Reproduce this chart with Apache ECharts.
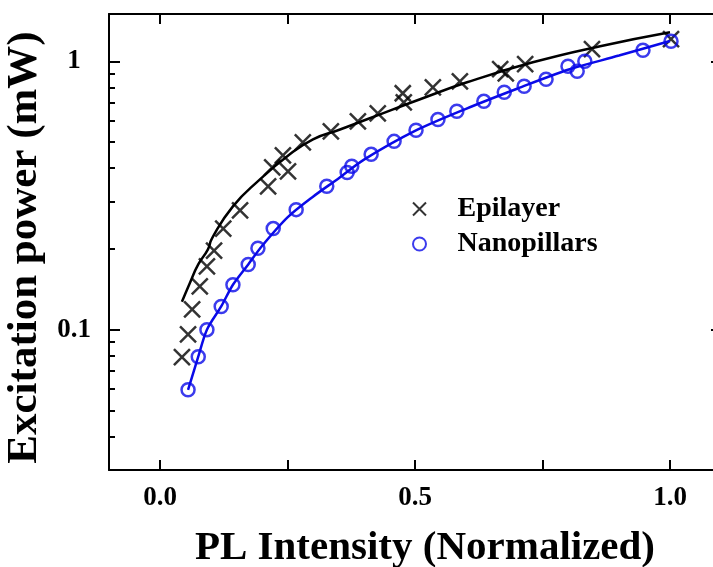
<!DOCTYPE html>
<html>
<head>
<meta charset="utf-8">
<script src="https://cdn.jsdelivr.net/npm/echarts@6/dist/echarts.min.js"></script>
<style>
  html, body { margin: 0; padding: 0; background: #fff; }
  #chart { width: 713px; height: 567px; }
</style>
</head>
<body>
<div id="chart"></div>
<script>
// measured points: [PL intensity (normalized), excitation power (mW)]
var epilayer = [
  [0.043, 0.079], [0.055, 0.096], [0.063, 0.119], [0.078, 0.145], [0.092, 0.172],
  [0.106, 0.197], [0.124, 0.238], [0.157, 0.278], [0.212, 0.342], [0.220, 0.402],
  [0.241, 0.446], [0.251, 0.389], [0.280, 0.499], [0.335, 0.548], [0.388, 0.597],
  [0.427, 0.640], [0.476, 0.760], [0.478, 0.703], [0.535, 0.800], [0.588, 0.842],
  [0.667, 0.934], [0.678, 0.902], [0.716, 0.975], [0.847, 1.109], [1.002, 1.208]
]
var nanopillars = [
  [0.055, 0.0597], [0.075, 0.0793], [0.092, 0.100], [0.120, 0.122], [0.143, 0.147],
  [0.173, 0.175], [0.192, 0.201], [0.222, 0.238], [0.267, 0.280], [0.327, 0.342],
  [0.367, 0.385], [0.376, 0.406], [0.414, 0.450], [0.459, 0.503], [0.502, 0.553],
  [0.545, 0.607], [0.582, 0.651], [0.635, 0.709], [0.675, 0.766], [0.714, 0.807],
  [0.757, 0.857], [0.800, 0.958], [0.818, 0.918], [0.833, 1.000], [0.947, 1.099],
  [1.002, 1.188]
]
// fit curves
var epilayerFit = [
  [0.043, 0.127], [0.059, 0.150], [0.075, 0.175], [0.094, 0.199], [0.102, 0.219],
  [0.143, 0.288], [0.196, 0.363], [0.249, 0.442], [0.300, 0.512], [0.353, 0.557],
  [0.406, 0.608], [0.457, 0.662], [0.510, 0.722], [0.602, 0.835], [0.731, 0.991],
  [0.863, 1.138], [1.000, 1.283]
]
var nanopillarsFit = [
  [0.055, 0.0597], [0.075, 0.0793], [0.092, 0.100], [0.120, 0.122], [0.143, 0.147],
  [0.173, 0.175], [0.200, 0.205], [0.250, 0.262], [0.300, 0.313], [0.350, 0.366],
  [0.400, 0.430], [0.500, 0.550], [0.600, 0.665], [0.700, 0.790], [0.800, 0.930],
  [0.900, 1.050], [1.000, 1.190]
]
var xTicks = [0, 0.25, 0.5, 0.75, 1.0]
var xLabels = [0, 0.5, 1.0]
var yMajor = [0.1, 1]
var yMinor = [0.04, 0.05, 0.06, 0.07, 0.08, 0.09, 0.2, 0.3, 0.4, 0.5, 0.6, 0.7, 0.8, 0.9]

var serif = 'Liberation Serif'
var blue = '#0a0ae8'
var cross = 'path://M0,0L10,10M10,0L0,10'

var chart = echarts.init(document.getElementById('chart'))

var xBase = {
  type: 'value',
  min: -0.1,
  max: 1.1,
  splitLine: {show: false},
  axisLine: {show: true, onZero: false, lineStyle: {color: '#000', width: 2}},
  axisTick: {inside: true, length: 10, customValues: xTicks, lineStyle: {color: '#000', width: 2}}
}
var yBase = {
  type: 'log',
  logBase: 10,
  min: 0.03,
  max: 1.5,
  splitLine: {show: false},
  axisLabel: {show: false},
  axisLine: {show: false, onZero: false}
}

chart.setOption({
  animation: false,
  grid: {left: 109, top: 14, width: 612, height: 456, containLabel: false, outerBoundsMode: 'none'},
  legend: {
    left: 407,
    top: 190,
    orient: 'vertical',
    itemWidth: 66,
    itemHeight: 13,
    itemGap: 7,
    data: ['Epilayer', 'Nanopillars'],
    textStyle: {fontFamily: serif, fontWeight: 'bold', fontSize: 28, color: '#000'}
  },
  xAxis: [
    Object.assign({}, xBase, {
      position: 'bottom',
      name: 'PL Intensity (Normalized)',
      nameLocation: 'middle',
      nameGap: 58,
      nameTextStyle: {fontFamily: serif, fontWeight: 'bold', fontSize: 41, color: '#000', padding: [0, 0, 0, 20]},
      axisLabel: {
        customValues: xLabels,
        margin: 15,
        fontFamily: serif,
        fontWeight: 'bold',
        fontSize: 27,
        color: '#000',
        formatter: function (v) { return v.toFixed(1) }
      }
    }),
    Object.assign({}, xBase, {position: 'top', axisLabel: {show: false}})
  ],
  yAxis: [
    Object.assign({}, yBase, {
      position: 'left',
      name: 'Excitation power (mW)',
      nameLocation: 'middle',
      nameGap: 55,
      nameTextStyle: {fontFamily: serif, fontWeight: 'bold', fontSize: 43, color: '#000', padding: [0, 11, 0, 0]},
      axisLine: {show: true, onZero: false, lineStyle: {color: '#000', width: 2}},
      axisTick: {inside: true, length: 11, customValues: yMajor, lineStyle: {color: '#000', width: 2}},
      axisLabel: {
        show: true,
        customValues: yMajor,
        margin: 35,
        align: 'center',
        fontFamily: serif,
        fontWeight: 'bold',
        fontSize: 27,
        color: '#000',
        formatter: function (v) { return String(+(+v).toPrecision(3)) }
      }
    }),
    Object.assign({}, yBase, {
      position: 'left',
      axisTick: {inside: true, length: 6, customValues: yMinor, lineStyle: {color: '#000', width: 2}}
    }),
    Object.assign({}, yBase, {
      position: 'right',
      axisLine: {show: true, onZero: false, lineStyle: {color: '#000', width: 2}},
      axisTick: {inside: true, length: 10, customValues: yMajor, lineStyle: {color: '#000', width: 2}}
    })
  ],
  series: [
    {
      type: 'line',
      name: 'Epilayer fit',
      data: epilayerFit,
      smooth: true,
      showSymbol: false,
      lineStyle: {color: '#000', width: 2.5}
    },
    {
      type: 'line',
      name: 'Nanopillars fit',
      data: nanopillarsFit,
      smooth: 0.3,
      showSymbol: false,
      lineStyle: {color: blue, width: 2.5}
    },
    {
      type: 'scatter',
      name: 'Epilayer',
      data: epilayer,
      symbol: cross,
      symbolSize: 16,
      itemStyle: {color: 'transparent', borderColor: '#000', borderWidth: 2.5}
    },
    {
      type: 'scatter',
      name: 'Nanopillars',
      data: nanopillars,
      symbol: 'circle',
      symbolSize: 13,
      itemStyle: {color: 'transparent', borderColor: blue, borderWidth: 2.5}
    }
  ]
})
</script>
</body>
</html>
